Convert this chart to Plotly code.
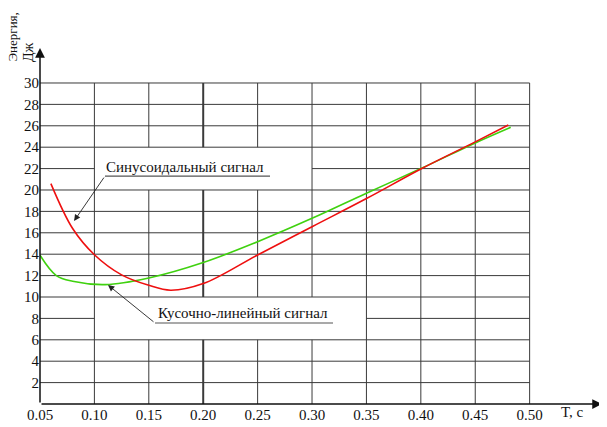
import plotly.graph_objects as go

# Data
sin_T = [0.060, 0.080, 0.100, 0.125, 0.150, 0.170, 0.200, 0.250, 0.300, 0.350, 0.400, 0.450, 0.4804]
sin_E = [20.6, 16.4, 13.95, 12.07, 11.09, 10.63, 11.25, 13.93, 16.57, 19.2, 21.96, 24.5, 26.07]

pw_T = [0.050, 0.065, 0.080, 0.110, 0.150, 0.200, 0.250, 0.300, 0.350, 0.400, 0.450, 0.4826]
pw_E = [13.9, 12.0, 11.47, 11.16, 11.78, 13.22, 15.17, 17.35, 19.7, 22.0, 24.4, 25.86]

x_ticks = [0.05, 0.10, 0.15, 0.20, 0.25, 0.30, 0.35, 0.40, 0.45, 0.50]
x_labels = ["0.05", "0.10", "0.15", "0.20", "0.25", "0.30", "0.35", "0.40", "0.45", "0.50"]
y_ticks = list(range(2, 31, 2))

X0, X1 = 0.05, 0.50
XMAX = 0.5665
Y0, Y1 = 0, 30
YMAX = 33.27
GRID = "#3a3a3a"
FONT = "Liberation Serif"
FS = 15

fig = go.Figure()
fig.add_trace(go.Scatter(x=pw_T, y=pw_E, mode="lines", line=dict(color="#3fd10f", width=1.6, shape="spline"),
                         name="Кусочно-линейный сигнал", showlegend=False))
fig.add_trace(go.Scatter(x=sin_T, y=sin_E, mode="lines", line=dict(color="#ee0f0f", width=1.6, shape="spline"),
                         name="Синусоидальный сигнал", showlegend=False))

shapes = []
def seg(x0, y0, x1, y1, w=1.0, c=GRID):
    shapes.append(dict(type="line", xref="x", yref="y", x0=x0, y0=y0, x1=x1, y1=y1,
                       line=dict(color=c, width=w), layer="below"))

# horizontal grid lines (with gaps where the labels sit)
for yv in y_ticks:
    if yv == 22:
        seg(X0, yv, 0.10, yv); seg(0.30, yv, X1, yv)
    elif yv == 8:
        seg(X0, yv, 0.10, yv); seg(0.35, yv, X1, yv)
    else:
        seg(X0, yv, X1, yv)
# vertical grid lines
for xv in x_ticks[1:]:
    w = 2.0 if abs(xv - 0.20) < 1e-9 else 1.0
    gaps = []
    if xv in (0.15, 0.20, 0.25):
        gaps = [(6, 10), (20, 24)]
    elif xv == 0.30:
        gaps = [(6, 10)]
    pts = [Y0]
    for a, b in gaps:
        pts += [a, b]
    pts.append(Y1)
    for i in range(0, len(pts), 2):
        seg(xv, pts[i], xv, pts[i + 1], w)

# underlines for labels
shapes.append(dict(type="line", xref="x", yref="y", x0=0.1097, y0=21.3, x1=0.2614, y1=21.3,
                   line=dict(color="#555555", width=1.2)))
shapes.append(dict(type="line", xref="x", yref="y", x0=0.1557, y0=7.57, x1=0.3193, y1=7.57,
                   line=dict(color="#555555", width=1.2)))

ann = []
# axes with arrows
ann.append(dict(x=XMAX, y=0, ax=X0, ay=0, xref="x", yref="y", axref="x", ayref="y", text="",
                showarrow=True, arrowhead=2, arrowsize=1.3, arrowwidth=1.5, arrowcolor="#111", standoff=0))
ann.append(dict(x=X0, y=YMAX, ax=X0, ay=0, xref="x", yref="y", axref="x", ayref="y", text="",
                showarrow=True, arrowhead=2, arrowsize=1.3, arrowwidth=1.5, arrowcolor="#111", standoff=0))
# leader arrows
ann.append(dict(x=0.0813, y=17.1, ax=0.1097, ay=21.3, xref="x", yref="y", axref="x", ayref="y", text="",
                showarrow=True, arrowhead=2, arrowsize=1.4, arrowwidth=0.9, arrowcolor="#222", standoff=0))
ann.append(dict(x=0.1125, y=11.12, ax=0.1557, ay=7.57, xref="x", yref="y", axref="x", ayref="y", text="",
                showarrow=True, arrowhead=2, arrowsize=1.4, arrowwidth=0.9, arrowcolor="#222", standoff=0))
# label texts
ann.append(dict(x=0.1833, y=22.15, xref="x", yref="y", text="Синусоидальный сигнал", showarrow=False,
                font=dict(family=FONT, size=FS, color="#111"), xanchor="center", yanchor="middle"))
ann.append(dict(x=0.2366, y=8.5, xref="x", yref="y", text="Кусочно-линейный сигнал", showarrow=False,
                font=dict(family=FONT, size=FS, color="#111"), xanchor="center", yanchor="middle"))
# axis titles (paper coordinates; plot area spans page px 40..602 x 48..404)
ann.append(dict(x=(572 - 40) / 562, y=(404 - 412) / 356, xref="paper", yref="paper", text="T, c",
                showarrow=False, font=dict(family=FONT, size=FS, color="#111"),
                xanchor="center", yanchor="middle"))
ann.append(dict(x=(12 - 40) / 562, y=(404 - 64) / 356, xref="paper", yref="paper", text="Энергия,",
                textangle=-90, showarrow=False, font=dict(family=FONT, size=13, color="#111"),
                xanchor="center", yanchor="bottom"))
ann.append(dict(x=(28 - 40) / 562, y=(404 - 64) / 356, xref="paper", yref="paper", text="Дж",
                textangle=-90, showarrow=False, font=dict(family=FONT, size=14, color="#111"),
                xanchor="center", yanchor="bottom"))

# page body has an 8px margin, so the figure is shrunk and margins shifted by 8px
fig.update_layout(
    width=599, height=419,
    margin=dict(l=32, r=5, t=40, b=23),
    font=dict(family=FONT, size=FS, color="#111"),
    paper_bgcolor="white", plot_bgcolor="white",
    shapes=shapes, annotations=ann,
    xaxis=dict(range=[X0, XMAX], tickvals=x_ticks, ticktext=x_labels, showgrid=False, zeroline=False,
               showline=False, ticks="", tickfont=dict(family=FONT, size=FS, color="#111")),
    yaxis=dict(range=[0, YMAX], tickvals=y_ticks, showgrid=False, zeroline=False,
               showline=False, ticks="", tickfont=dict(family=FONT, size=FS, color="#111")),
)
fig.write_html("out.html")
